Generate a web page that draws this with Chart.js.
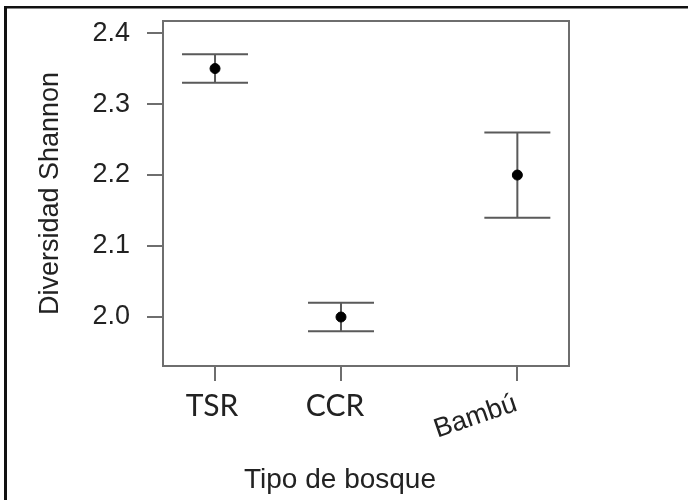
<!DOCTYPE html>
<html>
<head>
<meta charset="utf-8">
<script src="https://cdn.jsdelivr.net/npm/chart.js@4"></script>
<style>
  html, body { margin: 0; padding: 0; background: #fff; }
  #wrap { width: 688px; height: 500px; }
</style>
</head>
<body>
<div id="wrap"><canvas id="chartShannon" width="688" height="500"></canvas></div>
<script>
    // Tipo de bosque y diversidad de Shannon (media con intervalo)
    const categories = ['TSR', 'CCR', 'Bambú'];
    const xPositions = [1, 2, 3.4];
    const means = [2.35, 2.00, 2.20];
    const lower = [2.33, 1.98, 2.14];
    const upper = [2.37, 2.02, 2.26];
    const yTicks = [2.0, 2.1, 2.2, 2.3, 2.4];

    const axisGray = '#6e6e6e';
    const textColor = '#222';
    const rFont = "'Liberation Sans', Arial, sans-serif";

    const points = xPositions.map((x, i) => ({ x: x, y: means[i] }));

    // marco, caja del gráfico, barras de error y etiquetas del eje x
    const decor = {
        id: 'decor',
        beforeDraw(chart) {
            const ctx = chart.ctx;
            ctx.save();
            ctx.fillStyle = '#111';
            ctx.fillRect(4, 6, 3, 494);
            ctx.fillRect(4, 6, 684, 2.5);
            ctx.restore();
        },
        beforeDatasetsDraw(chart) {
            const ctx = chart.ctx;
            const a = chart.chartArea;
            const xs = chart.scales.x, ys = chart.scales.y;
            ctx.save();
            ctx.strokeStyle = axisGray;
            ctx.lineWidth = 2;
            ctx.strokeRect(a.left, a.top, a.right - a.left, a.bottom - a.top);

            ctx.strokeStyle = '#5a5a5a';
            ctx.lineWidth = 2;
            const cap = 33;
            xPositions.forEach((xv, i) => {
                const px = xs.getPixelForValue(xv);
                const pLo = ys.getPixelForValue(lower[i]);
                const pHi = ys.getPixelForValue(upper[i]);
                ctx.beginPath();
                ctx.moveTo(px, pHi); ctx.lineTo(px, pLo);
                ctx.moveTo(px - cap, pHi); ctx.lineTo(px + cap, pHi);
                ctx.moveTo(px - cap, pLo); ctx.lineTo(px + cap, pLo);
                ctx.stroke();
            });
            ctx.restore();
        },
        afterDraw(chart) {
            const ctx = chart.ctx;
            const xs = chart.scales.x;
            ctx.save();
            ctx.fillStyle = textColor;
            // TSR y CCR horizontales, Bambú inclinada
            ctx.font = "30px Lato, 'Open Sans', sans-serif";
            ctx.textAlign = 'center';
            ctx.textBaseline = 'alphabetic';
            ctx.fillText(categories[0], xs.getPixelForValue(xPositions[0]) - 3, 416);
            ctx.fillText(categories[1], xs.getPixelForValue(xPositions[1]) - 6, 416);

            ctx.font = '27px ' + rFont;
            ctx.translate(xs.getPixelForValue(xPositions[2]) + 1, 410);
            ctx.rotate(-19 * Math.PI / 180);
            ctx.textAlign = 'right';
            ctx.fillText(categories[2], 0, 0);
            ctx.restore();

            ctx.save();
            ctx.fillStyle = textColor;
            ctx.font = '28px ' + rFont;
            ctx.textAlign = 'center';
            ctx.fillText('Tipo de bosque', 340, 488);
            ctx.restore();
        }
    };

    new Chart(document.getElementById('chartShannon'), {
        type: 'scatter',
        data: {
            datasets: [{
                label: 'Diversidad Shannon',
                data: points,
                backgroundColor: '#000',
                borderColor: '#000',
                pointRadius: 5,
                pointHoverRadius: 5
            }]
        },
        options: {
            responsive: false,
            animation: false,
            layout: { padding: { top: 21, right: 119, left: 0, bottom: 0 } },
            plugins: {
                legend: { display: false },
                tooltip: { enabled: false }
            },
            scales: {
                x: {
                    type: 'linear',
                    min: 0.587,
                    max: 3.81,
                    afterBuildTicks: (scale) => {
                        scale.ticks = xPositions.map(v => ({ value: v }));
                    },
                    afterFit: (scale) => {
                        scale.height = 134;
                        scale.paddingLeft = 0;
                        scale.paddingRight = 0;
                    },
                    ticks: { display: false },
                    grid: {
                        drawOnChartArea: false,
                        tickLength: 15,
                        color: axisGray,
                        lineWidth: 2
                    },
                    border: { display: false }
                },
                y: {
                    min: 1.931,
                    max: 2.417,
                    afterBuildTicks: (scale) => {
                        scale.ticks = yTicks.map(v => ({ value: v }));
                    },
                    afterFit: (scale) => {
                        scale.width = 163;
                        scale.paddingTop = 0;
                        scale.paddingBottom = 0;
                    },
                    ticks: {
                        padding: 17,
                        color: textColor,
                        font: { family: rFont, size: 27 },
                        callback: (v) => Number(v).toFixed(1)
                    },
                    grid: {
                        drawOnChartArea: false,
                        tickLength: 16,
                        color: axisGray,
                        lineWidth: 2
                    },
                    border: { display: false },
                    title: {
                        display: true,
                        text: 'Diversidad Shannon',
                        color: textColor,
                        font: { family: rFont, size: 27 },
                        padding: { top: 34, bottom: 0 }
                    }
                }
            }
        },
        plugins: [decor]
    });
</script>
</body>
</html>
